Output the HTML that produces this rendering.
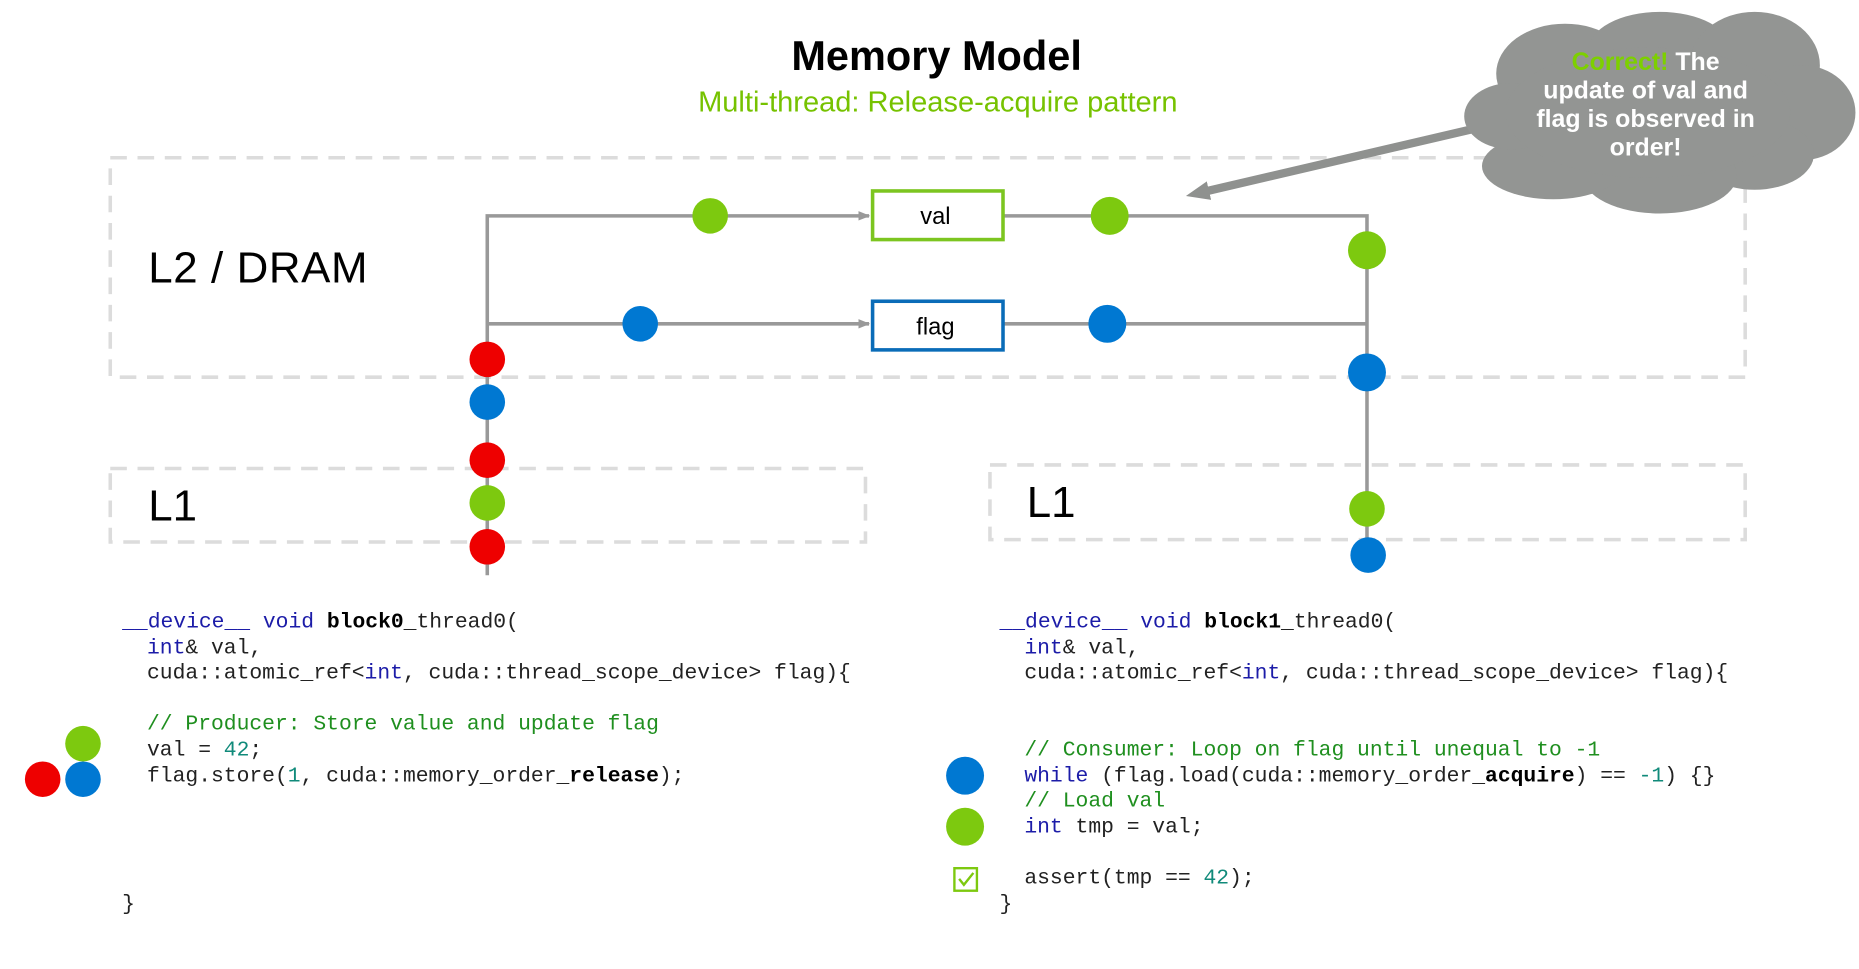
<!DOCTYPE html>
<html><head><meta charset="utf-8"><style>
html,body{margin:0;padding:0;background:#fff;}
svg{display:block}
.m{font-family:"Liberation Mono",monospace;font-size:18px;fill:#222}
.k{fill:#1c1ca8}.c{fill:#1f8f1f}.n{fill:#108a7a}.b{font-weight:bold;fill:#000}
</style></head><body>
<svg width="1859" height="969" viewBox="0 0 1568 817" preserveAspectRatio="none" xmlns="http://www.w3.org/2000/svg">
<defs><marker id="ar" markerWidth="10" markerHeight="10" refX="9" refY="5" orient="auto" markerUnits="userSpaceOnUse"><path d="M0,1 L10,5 L0,9 z" fill="#999"/></marker>
<marker id="ar2" markerWidth="20" markerHeight="20" refX="10" refY="10" orient="auto" markerUnits="userSpaceOnUse"><path d="M0,2 L20,10 L0,18 z" fill="#8f918f"/></marker></defs>
<text x="790" y="59" text-anchor="middle" font-family="Liberation Sans,sans-serif" font-weight="bold" font-size="35" fill="#000">Memory Model</text>
<text x="791" y="94" text-anchor="middle" font-family="Liberation Sans,sans-serif" font-size="24.5" fill="#76c200">Multi-thread: Release-acquire pattern</text>
<g fill="none" stroke="#dcdcdc" stroke-width="3" stroke-dasharray="14,9">
<rect x="93" y="133" width="1379" height="185"/>
<rect x="93" y="395" width="637" height="62"/>
<rect x="835" y="392" width="637" height="63"/>
</g>
<g font-family="Liberation Sans,sans-serif" font-size="37" fill="#000">
<text x="125" y="238" textLength="185">L2 / DRAM</text>
<text x="125" y="439">L1</text>
<text x="866" y="436">L1</text>
</g>
<g stroke="#999" stroke-width="3" fill="none">
<path d="M411,485 V182 H733" marker-end="url(#ar)"/>
<path d="M411,273 H733" marker-end="url(#ar)"/>
<path d="M846,182 H1153 V470"/>
<path d="M846,273 H1153"/>
</g>
<rect x="736" y="161" width="110" height="41" fill="#fff" stroke="#7cc520" stroke-width="3"/>
<rect x="736" y="254" width="110" height="41" fill="#fff" stroke="#0a6cb8" stroke-width="3"/>
<text x="789" y="189" text-anchor="middle" font-family="Liberation Sans,sans-serif" font-size="20">val</text>
<text x="789" y="282" text-anchor="middle" font-family="Liberation Sans,sans-serif" font-size="20">flag</text>
<g fill="#7dc90f">
<circle cx="599" cy="182" r="15"/><circle cx="936" cy="182" r="16"/><circle cx="1153" cy="211" r="16"/><circle cx="1153" cy="429" r="15"/><circle cx="411" cy="424" r="15"/><circle cx="70" cy="627" r="15"/><circle cx="814" cy="697" r="16"/>
</g>
<g fill="#0078d2">
<circle cx="540" cy="273" r="15"/><circle cx="934" cy="273" r="16"/><circle cx="1153" cy="314" r="16"/><circle cx="1154" cy="468" r="15"/><circle cx="411" cy="339" r="15"/><circle cx="70" cy="657" r="15"/><circle cx="814" cy="654" r="16"/>
</g>
<g fill="#ee0000">
<circle cx="411" cy="303" r="15"/><circle cx="411" cy="388" r="15"/><circle cx="411" cy="461" r="15"/><circle cx="36" cy="657" r="15"/>
</g>
<line x1="1250" y1="107" x2="1010" y2="163" stroke="#8f918f" stroke-width="7" marker-end="url(#ar2)"/>
<g fill="#939593">
<ellipse cx="1320" cy="62" rx="58" ry="42"/><ellipse cx="1400" cy="42" rx="60" ry="32"/><ellipse cx="1480" cy="55" rx="55" ry="45"/><ellipse cx="1520" cy="95" rx="45" ry="40"/><ellipse cx="1480" cy="130" rx="50" ry="30"/><ellipse cx="1400" cy="148" rx="65" ry="32"/><ellipse cx="1310" cy="140" rx="60" ry="28"/><ellipse cx="1275" cy="98" rx="40" ry="28"/><ellipse cx="1390" cy="95" rx="120" ry="55"/>
</g>
<g font-family="Liberation Sans,sans-serif" font-size="21" font-weight="bold" fill="#fff" text-anchor="middle">
<text x="1388" y="59"><tspan fill="#7dd000">Correct!</tspan> The</text>
<text x="1388" y="83">update of val and</text>
<text x="1388" y="107">flag is observed in</text>
<text x="1388" y="131">order!</text>
</g>
<g class="m">
<text x="103" y="529"><tspan class="k">__device__</tspan> <tspan class="k">void</tspan> <tspan class="b">block0</tspan>_thread0(</text>
<text x="124" y="551"><tspan class="k">int</tspan>&amp; val,</text>
<text x="124" y="572">cuda::atomic_ref&lt;<tspan class="k">int</tspan>, cuda::thread_scope_device&gt; flag){</text>
<text x="124" y="615" class="c">// Producer: Store value and update flag</text>
<text x="124" y="637">val = <tspan class="n">42</tspan>;</text>
<text x="124" y="659">flag.store(<tspan class="n">1</tspan>, cuda::memory_order_<tspan class="b">release</tspan>);</text>
<text x="103" y="767">}</text>
<text x="843" y="529"><tspan class="k">__device__</tspan> <tspan class="k">void</tspan> <tspan class="b">block1</tspan>_thread0(</text>
<text x="864" y="551"><tspan class="k">int</tspan>&amp; val,</text>
<text x="864" y="572">cuda::atomic_ref&lt;<tspan class="k">int</tspan>, cuda::thread_scope_device&gt; flag){</text>
<text x="864" y="637" class="c">// Consumer: Loop on flag until unequal to -1</text>
<text x="864" y="659"><tspan class="k">while</tspan> (flag.load(cuda::memory_order_<tspan class="b">acquire</tspan>) == <tspan class="n">-1</tspan>) {}</text>
<text x="864" y="680" class="c">// Load val</text>
<text x="864" y="702"><tspan class="k">int</tspan> tmp = val;</text>
<text x="864" y="745">assert(tmp == <tspan class="n">42</tspan>);</text>
<text x="843" y="767">}</text>
</g>
<rect x="805" y="732" width="19" height="19" fill="none" stroke="#7dc90f" stroke-width="2"/>
<path d="M809,741 L813,746 L821,736" fill="none" stroke="#7dc90f" stroke-width="2"/>
</svg>
</body></html>
